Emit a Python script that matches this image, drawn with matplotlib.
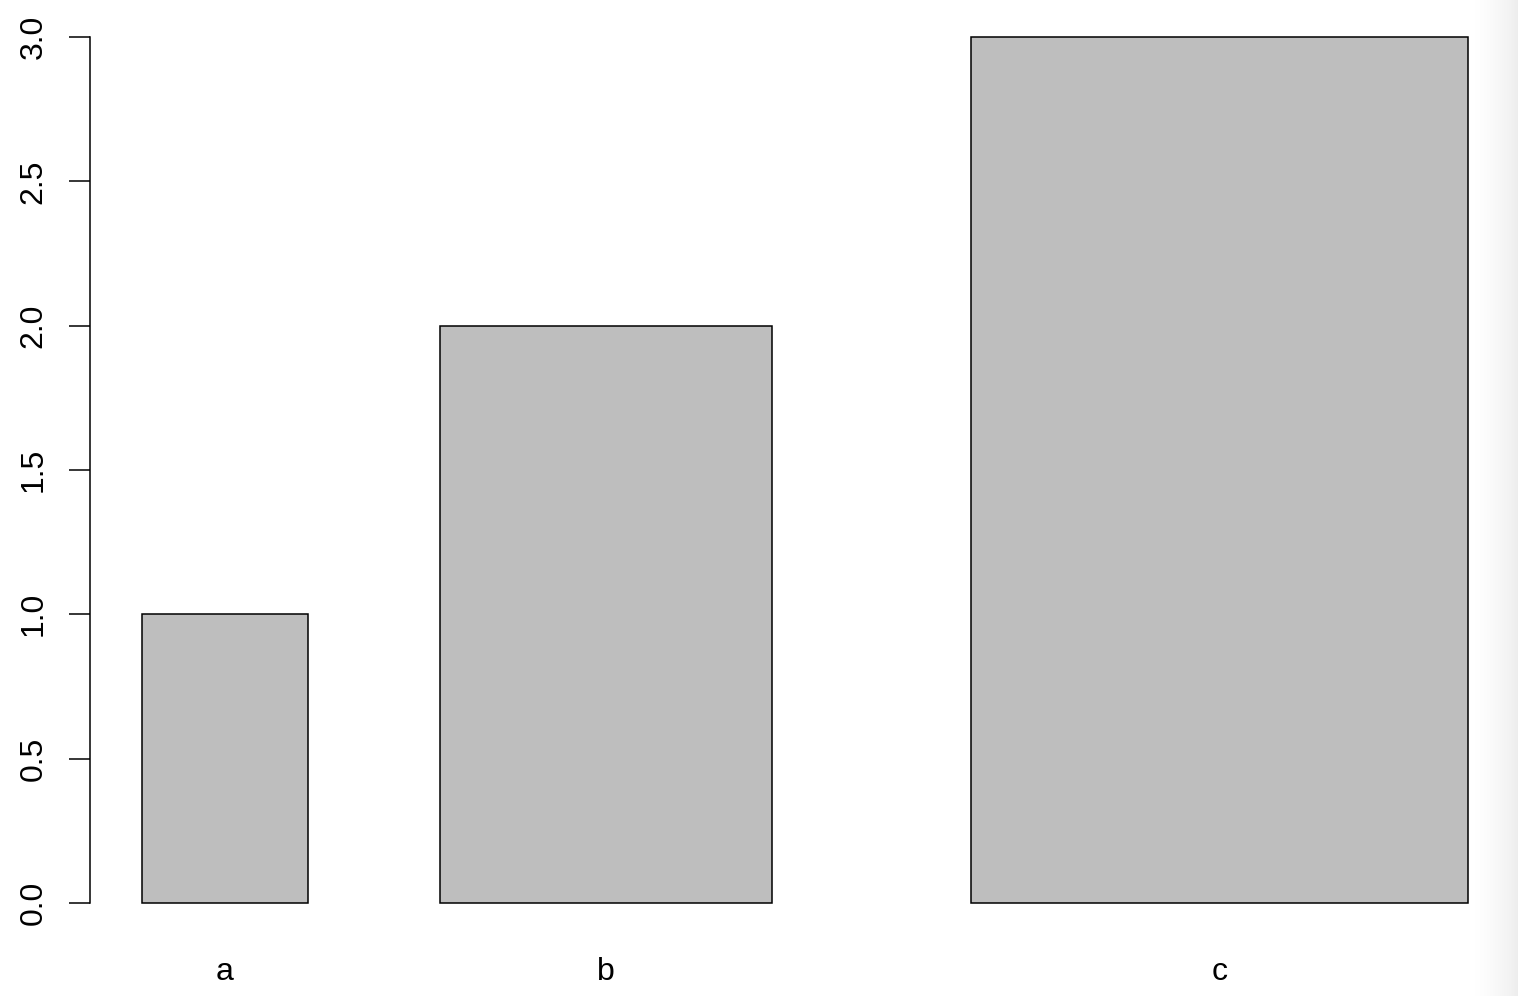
import numpy as np
import matplotlib.pyplot as plt

plt.rcParams['font.family'] = ['Liberation Sans', 'DejaVu Sans']

# bar data (widths follow the values, like R barplot(width=...))
labels = ['a', 'b', 'c']
values = [1, 2, 3]
y_ticks = [0.0, 0.5, 1.0, 1.5, 2.0, 2.5, 3.0]

# layout
W, H = 1518, 996
unit = 165.75          # px per x data unit
gaps = [0.0, 0.8, 1.2]  # space before each bar

lefts = []
pos = 0.0
for g, v in zip(gaps, values):
    pos += g
    lefts.append(pos)
    pos += v
centers = [l + v / 2 for l, v in zip(lefts, values)]

fig = plt.figure(figsize=(W / 100, H / 100), dpi=100)

# grey fade on the right edge (drawn first, behind the plot)
grad = np.linspace(0, 1, 256) ** 1.5
gax = fig.add_axes([1472 / W, 0, 46 / W, 1], zorder=0)
gax.imshow(grad[None, :], aspect='auto', cmap='Greys', vmin=0, vmax=7,
           extent=[0, 1, 0, 1])
gax.axis('off')

ax_l, ax_b, ax_t = 90, 937.64, 2.36
ax = fig.add_axes([ax_l / W, (H - ax_b) / H, (W - ax_l) / W, (ax_b - ax_t) / H],
                  zorder=1)
ax.patch.set_alpha(0)

ax.bar(lefts, values, width=values, align='edge', color='#bebebe',
       edgecolor='black', linewidth=1.1)

ax.set_xlim(-52 / unit, (W - 142) / unit)
ax.set_ylim(-0.12, 3.12)

for s in ['top', 'right', 'bottom']:
    ax.spines[s].set_visible(False)
ax.spines['left'].set_bounds(0, 3)
ax.spines['left'].set_linewidth(1.1)

ax.set_yticks(y_ticks)
ax.set_yticklabels(['%.1f' % t for t in y_ticks], rotation=90, va='center',
                   fontsize=23)
ax.tick_params(axis='y', length=15, width=1.1, pad=15)
ax.set_xticks([])

for c, lab in zip(centers, labels):
    ax.text(c, -0.24, lab, ha='center', va='center', fontsize=23)

fig.savefig('out.png', dpi=100)
